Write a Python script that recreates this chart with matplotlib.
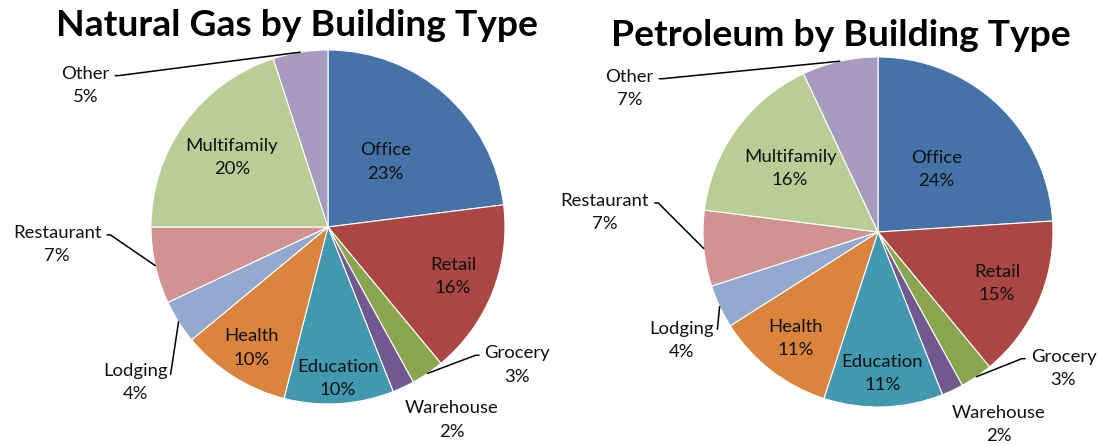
import matplotlib
matplotlib.use("Agg")
import matplotlib.pyplot as plt
import numpy as np

plt.rcParams['font.family'] = ['Lato', 'DejaVu Sans']

# data
categories = ['Office', 'Retail', 'Grocery', 'Warehouse', 'Education',
              'Health', 'Lodging', 'Restaurant', 'Multifamily', 'Other']
gas_share = [23, 16, 3, 2, 10, 10, 4, 7, 20, 5]
petro_share = [24, 15, 3, 2, 11, 11, 4, 7, 16, 7]
titles = ['Natural Gas by Building Type', 'Petroleum by Building Type']

colors = ['#4572A7', '#AA4643', '#89A54E', '#71588F', '#4198AF',
          '#DB843D', '#93A9CF', '#D19392', '#B9CD96', '#A99BBD']

W, H = 1098, 446
fig = plt.figure(figsize=(W / 100, H / 100), dpi=100)
FS = 13.3
LS = 1.55

# label placement (radius units), per chart
inside_r = [
    {'Office': 0.49, 'Retail': 0.76, 'Education': 0.86, 'Health': 0.81, 'Multifamily': 0.67},
    {'Office': 0.49, 'Retail': 0.74, 'Education': 0.81, 'Health': 0.77, 'Multifamily': 0.62},
]
outside_pos = [
    {'Other': (-1.37, 0.80), 'Restaurant': (-1.53, -0.10), 'Lodging': (-1.09, -0.88),
     'Grocery': (1.07, -0.78), 'Warehouse': (0.70, -1.09)},
    {'Other': (-1.42, 0.82), 'Restaurant': (-1.56, 0.11), 'Lodging': (-1.12, -0.62),
     'Grocery': (1.06, -0.78), 'Warehouse': (0.69, -1.10)},
]
# relpos on the text box and direction of the short arm leaving it
leader = {'Other': ((1.0, 0.75), 0), 'Restaurant': ((1.0, 0.75), 0),
          'Lodging': ((1.03, 0.5), None), 'Grocery': ((0.0, 0.75), 180)}

# pie geometry in pixels: (axes left px, center x, center y from top, radius)
geo = [(0, 328, 227, 177), (549, 878, 232, 175)]
title_pos = [(297, 26), (841, 36)]

for k, shares in enumerate([gas_share, petro_share]):
    x0, cx, cy, R = geo[k]
    ax = fig.add_axes([x0 / W, 0, 549 / W, 1])
    wedges, _ = ax.pie(shares, colors=colors, startangle=90, counterclock=False,
                       wedgeprops=dict(edgecolor='white', linewidth=0.8))
    ax.set_xlim(-(cx - x0) / R, (x0 + 549 - cx) / R)
    ax.set_ylim(-(H - cy) / R, cy / R)
    ax.set_aspect('auto')
    ax.axis('off')

    for w, name, v in zip(wedges, categories, shares):
        ang = np.deg2rad((w.theta1 + w.theta2) / 2)
        txt = f'{name}\n{v}%'
        if name in inside_r[k]:
            r = inside_r[k][name]
            ax.text(r * np.cos(ang), r * np.sin(ang), txt, ha='center', va='center',
                    fontsize=FS, linespacing=LS, color='#111111')
        else:
            tx, ty = outside_pos[k][name]
            if name in leader:
                relpos, a = leader[name]
                if a is None:
                    conn = 'arc3,rad=0'
                else:
                    conn = f'arc,angleA={a},armA=9,rad=0'
                ax.annotate(txt, xy=(np.cos(ang), np.sin(ang)), xytext=(tx, ty),
                            ha='center', va='center', fontsize=FS, linespacing=LS,
                            color='#111111',
                            arrowprops=dict(arrowstyle='-', color='black', lw=1.1,
                                            relpos=relpos, shrinkA=2, shrinkB=0,
                                            connectionstyle=conn))
            else:
                ax.text(tx, ty, txt, ha='center', va='center', fontsize=FS,
                        linespacing=LS, color='#111111')

    tx, ty = title_pos[k]
    fig.text(tx / W, 1 - ty / H, titles[k], ha='center', va='center',
             fontsize=26.8, fontweight='bold')

fig.savefig('out.png', dpi=100, facecolor='white')
